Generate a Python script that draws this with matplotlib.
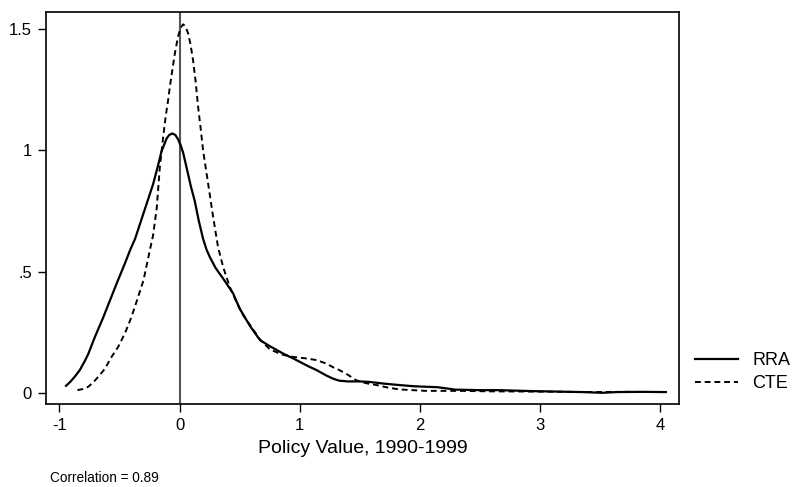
"""Kernel densities of policy values (RRA vs CTE), 1990-1999."""
import matplotlib
matplotlib.use("Agg")
import matplotlib.pyplot as plt

plt.rcParams["font.family"] = ["Liberation Sans", "DejaVu Sans"]
plt.rcParams["axes.unicode_minus"] = False

# RRA density (solid)
rra_x = [-0.945, -0.91, -0.87, -0.83, -0.79, -0.76, -0.705, -0.64, -0.58,
         -0.52, -0.455, -0.41, -0.37, -0.30, -0.22, -0.18, -0.15, -0.108,
         -0.085, -0.061, -0.035, -0.012, 0.01, 0.03, 0.058, 0.095, 0.127,
         0.16, 0.196, 0.225, 0.252, 0.30, 0.363, 0.446, 0.50, 0.585, 0.67,
         0.76, 0.862, 0.945, 1.0, 1.07, 1.14, 1.22, 1.28, 1.33, 1.40, 1.50,
         1.58, 1.70, 1.83, 1.95, 2.05, 2.15, 2.30, 2.50, 2.66, 2.80, 2.94,
         3.15, 3.36, 3.52, 3.64, 3.85, 4.05]
rra_y = [0.029, 0.045, 0.068, 0.094, 0.13, 0.16, 0.23, 0.305, 0.38,
         0.455, 0.533, 0.59, 0.635, 0.74, 0.86, 0.935, 0.995, 1.048,
         1.063, 1.069, 1.063, 1.045, 1.02, 0.99, 0.93, 0.85, 0.79,
         0.71, 0.635, 0.59, 0.56, 0.515, 0.471, 0.41, 0.348, 0.277, 0.217,
         0.19, 0.162, 0.142, 0.128, 0.11, 0.094, 0.072, 0.058, 0.05, 0.047,
         0.047, 0.045, 0.038, 0.032, 0.027, 0.025, 0.023, 0.013, 0.011,
         0.011, 0.009, 0.007, 0.005, 0.003, 0.0, 0.003, 0.004, 0.003]

# CTE density (dashed)
cte_x = [-0.85, -0.80, -0.76, -0.72, -0.677, -0.62, -0.566, -0.51, -0.455,
         -0.41, -0.372, -0.30, -0.247, -0.22, -0.19, -0.164, -0.136, -0.115,
         -0.095, -0.081, -0.06, -0.039, -0.012, 0.01, 0.03, 0.05, 0.072,
         0.092, 0.113, 0.135, 0.155, 0.176, 0.196, 0.238, 0.28, 0.321, 0.363,
         0.418, 0.474, 0.53, 0.60, 0.67, 0.75, 0.85, 0.945, 1.05, 1.14, 1.22,
         1.28, 1.33, 1.40, 1.47, 1.55, 1.64, 1.73, 1.83, 2.05, 2.33, 2.6, 3.0,
         3.4, 3.75]
cte_y = [0.011, 0.016, 0.025, 0.042, 0.066, 0.10, 0.148, 0.19, 0.245,
         0.30, 0.354, 0.464, 0.588, 0.65, 0.76, 0.93, 1.055, 1.14,
         1.206, 1.26, 1.33, 1.398, 1.47, 1.505, 1.519, 1.51, 1.481,
         1.435, 1.37, 1.28, 1.178, 1.09, 1.0, 0.863, 0.725, 0.60, 0.519,
         0.437, 0.375, 0.32, 0.27, 0.22, 0.18, 0.158, 0.148, 0.142, 0.135,
         0.121, 0.105, 0.094, 0.075, 0.052, 0.04, 0.032, 0.022, 0.014, 0.008,
         0.008, 0.006, 0.005, 0.003, 0.004]

x_ticks = [-1, 0, 1, 2, 3, 4]
y_ticks = [0, 0.5, 1, 1.5]
y_tick_labels = ["0", ".5", "1", "1.5"]
correlation = 0.89

fig = plt.figure(figsize=(7.93, 4.87), dpi=100)
ax = fig.add_axes([0.058, 0.170, 0.798, 0.805])

ax.axvline(0, color="#555555", linewidth=1.5, zorder=1)
ax.plot(rra_x, rra_y, color="black", linewidth=1.6, label="RRA", zorder=3,
        solid_joinstyle="round")
ax.plot(cte_x, cte_y, color="black", linewidth=1.4, linestyle=(0, (3, 2)),
        label="CTE", zorder=2)

ax.set_xlim(-1.112, 4.158)
ax.set_ylim(-0.047, 1.569)
ax.set_xticks(x_ticks)
ax.set_yticks(y_ticks)
ax.set_yticklabels(y_tick_labels)
ax.tick_params(direction="out", length=6, width=1, labelsize=12, pad=4)
for spine in ax.spines.values():
    spine.set_linewidth(1.2)

ax.set_xlabel("Policy Value, 1990-1999", fontsize=14, labelpad=5)

fig.legend(loc="upper left", bbox_to_anchor=(0.876, 0.277), frameon=False,
           fontsize=13, handlelength=2.4, handletextpad=0.8, labelspacing=0.35,
           borderpad=0, borderaxespad=0)

fig.text(50 / 793, 1 - 478 / 487, f"Correlation = {correlation}",
         fontsize=9.8, va="center", ha="left")

fig.savefig("out.png", dpi=100)
